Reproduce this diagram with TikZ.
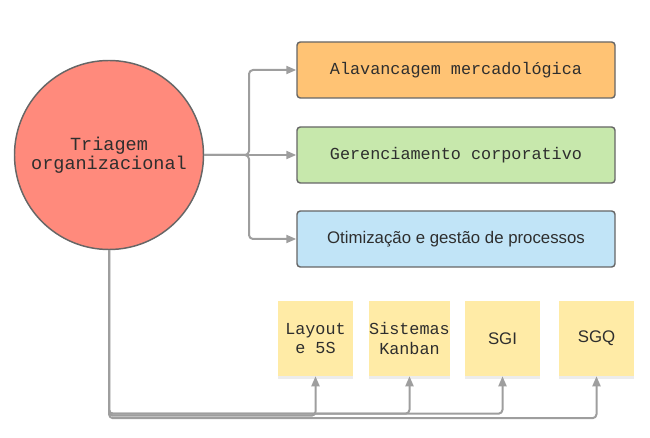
\documentclass[tikz,border=0pt]{standalone}
\usepackage{fontspec}
\setmainfont{Liberation Sans}
\newfontfamily\monofont{Liberation Mono}
\usetikzlibrary{arrows.meta,shadows}
\definecolor{linegray}{HTML}{9E9E9E}
\definecolor{edgegray}{HTML}{666666}
\definecolor{textgray}{HTML}{2E2E2E}
\definecolor{circred}{HTML}{FF8A7C}
\definecolor{boxorange}{HTML}{FFC374}
\definecolor{boxgreen}{HTML}{C7E8AC}
\definecolor{boxblue}{HTML}{C1E4F7}
\definecolor{noteyellow}{HTML}{FFEBA6}
\begin{document}
\begin{tikzpicture}[x=.75pt, y=-.75pt, line join=round, >={Triangle[length=7.5pt,width=6pt]}]
			\tikzset{every node/.style={font=\fontsize{12.6}{14.3}\selectfont\monofont, text=textgray, align=center},
				bigbox/.style={draw=edgegray, line width=1.1pt, rounded corners=2.5pt, minimum width=238.5pt, minimum height=42pt},
				note/.style={fill=noteyellow, minimum size=56.25pt, inner sep=0pt, drop shadow={shadow xshift=0pt, shadow yshift=-2pt, opacity=.15}},
				link/.style={draw=linegray, line width=1.5pt, rounded corners=3pt, ->}}
			\def\bx{456} \def\nx{94}
			\useasboundingbox (0,0) rectangle (650,438);
			\node[circle, draw=edgegray, fill=circred, line width=1.1pt, minimum size=141.75pt, font=\fontsize{13.9}{14.4}\selectfont\monofont] (tri) at (109,155) {Triagem\\organizacional};
			\node[bigbox, fill=boxorange] (alav) at (\bx,70) {Alavancagem mercadológica};
			\node[bigbox, fill=boxgreen] (ger) at (\bx,155) {Gerenciamento corporativo};
			\node[bigbox, fill=boxblue, font=\fontsize{12.6}{14.3}\selectfont\rmfamily] (otim) at (\bx,239) {Otimização e gestão de processos};
			\node[note] (lay) at (315.5,338.5) {Layout\\e 5S};
			\node[note] (kan) at (409.5,338.5) {Sistemas\\Kanban};
			\node[note, font=\fontsize{12.6}{14.3}\selectfont\rmfamily] (sgi) at (502.5,338.5) {SGI};
			\node[note, font=\fontsize{12.6}{14.3}\selectfont\rmfamily] (sgq) at (596.5,338.5) {SGQ};
			\coordinate (br) at (249,155);
			\draw[link] (tri.east) -- (ger.west);
			\foreach \n in {alav,otim}{\draw[link] (tri.east) -- (br) |- (\n.west);}
			\foreach \n/\d in {lay/165.5,kan/163.5,sgi/163.5,sgq/168}{\draw[link] (tri.south) -- ++(0,\d) -| (\n.south);}
		\end{tikzpicture}
\end{document}
